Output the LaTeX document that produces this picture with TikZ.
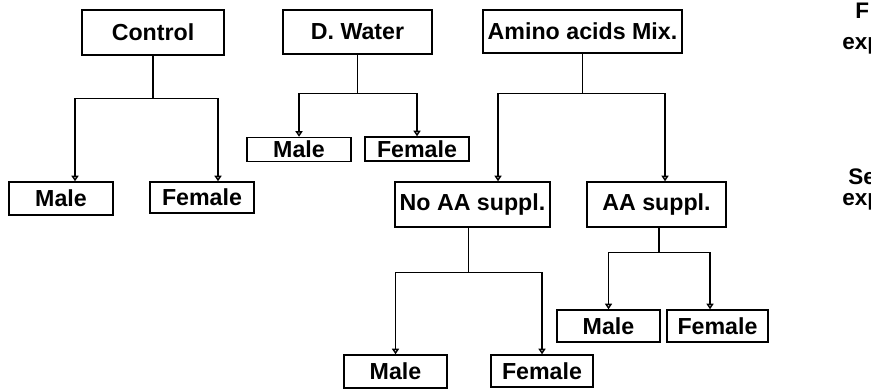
\documentclass[tikz,border=0pt]{standalone}
\usepackage{fontspec}
\setmainfont{Liberation Sans}
\usepackage{tikz}
\usetikzlibrary{positioning,arrows.meta,calc}
\tikzset{
  grpbox/.style={draw=black, line width=1pt, inner sep=0pt, align=center, font=\fontsize{16.5}{19}\selectfont\bfseries},
  sexbox/.style={grpbox, minimum width=2.6cm, minimum height=0.8cm},
  grparr/.style={-{Triangle[open, length=4pt, width=5pt]}, line width=1pt},
  sidelbl/.style={anchor=base west, inner sep=0pt, font=\fontsize{16}{18}\selectfont\bfseries}
}

\begin{document}
\begin{tikzpicture}[x=0.025cm, y=-0.025cm]
  \useasboundingbox (0,0) rectangle (880,391);
  % groups
  \node[grpbox, minimum width=3.55cm, minimum height=1.125cm] (ctrl) at (153,32.5) {Control};
  \node[grpbox, minimum width=3.725cm, minimum height=1.1cm] (dw) at (357.5,32) {D. Water};
  \node[grpbox, minimum width=4.975cm, minimum height=1.075cm] (amix) at (582.5,31.5) {Amino acids Mix.};
  \node[grpbox, minimum width=3.875cm, minimum height=1.125cm] (noaa) at (472.5,204.5) {No AA suppl.};
  \node[grpbox, minimum width=3.475cm, minimum height=1.125cm] (aasup) at (656.5,204.5) {AA suppl.};
  % sexes
  \node[sexbox, minimum height=0.825cm] (ctrlM) at (61,198.5) {Male};
  \node[sexbox, minimum height=0.775cm] (ctrlF) at (202,197.5) {Female};
  \node[sexbox, minimum height=0.6cm] (dwM) at (299,149.5) {Male};
  \node[sexbox, minimum height=0.6cm] (dwF) at (417,149) {Female};
  \node[sexbox, minimum width=2.575cm, minimum height=0.825cm] (noM) at (395.5,371.5) {Male};
  \node[sexbox, minimum width=2.55cm] (noF) at (542,371) {Female};
  \node[sexbox, minimum width=2.575cm] (supM) at (608.5,326) {Male};
  \node[sexbox, minimum width=2.525cm] (supF) at (717.5,326) {Female};
  % side labels, cut off at the edge
  \begin{scope}
    \clip (830,0) rectangle (870,391);
    \node[sidelbl] (firstA) at (855,18) {F};
    \node[sidelbl] (firstB) at (842,49) {exp};
    \node[sidelbl] (secA) at (848,184) {Se};
    \node[sidelbl] (secB) at (842,205) {exp};
  \end{scope}
  % connectors
  \coordinate (ctrlJ) at ($(ctrl.south)+(0,43)$);
  \draw[grparr] (ctrl.south) -- (ctrlJ) -| ($(ctrlM.north)+(14,0)$);
  \draw[grparr] (ctrlJ) -| ($(ctrlF.north)+(16,0)$);
  \coordinate (dwJ) at ($(dw.south)+(0,39)$);
  \draw[grparr] (dw.south) -- (dwJ) -| (dwM.north);
  \draw[grparr] (dwJ) -| (dwF.north);
  \coordinate (amixJ) at ($(amix.south)+(0,40)$);
  \draw[grparr] (amix.south) -- (amixJ) -| ($(noaa.north)+(25.5,0)$);
  \draw[grparr] (amixJ) -| ($(aasup.north)+(8.5,0)$);
  \coordinate (noaaJ) at ($(noaa.south)+(-4,45)$);
  \draw[grparr] ($(noaa.south)+(-4,0)$) -- (noaaJ) -| (noM.north);
  \draw[grparr] (noaaJ) -| (noF.north);
  \coordinate (aasupJ) at ($(aasup.south)+(2.5,25)$);
  \draw[grparr] ($(aasup.south)+(2.5,0)$) -- (aasupJ) -| (supM.north);
  \draw[grparr] (aasupJ) -| ($(supF.north)+(-7.5,0)$);
\end{tikzpicture}
\end{document}
